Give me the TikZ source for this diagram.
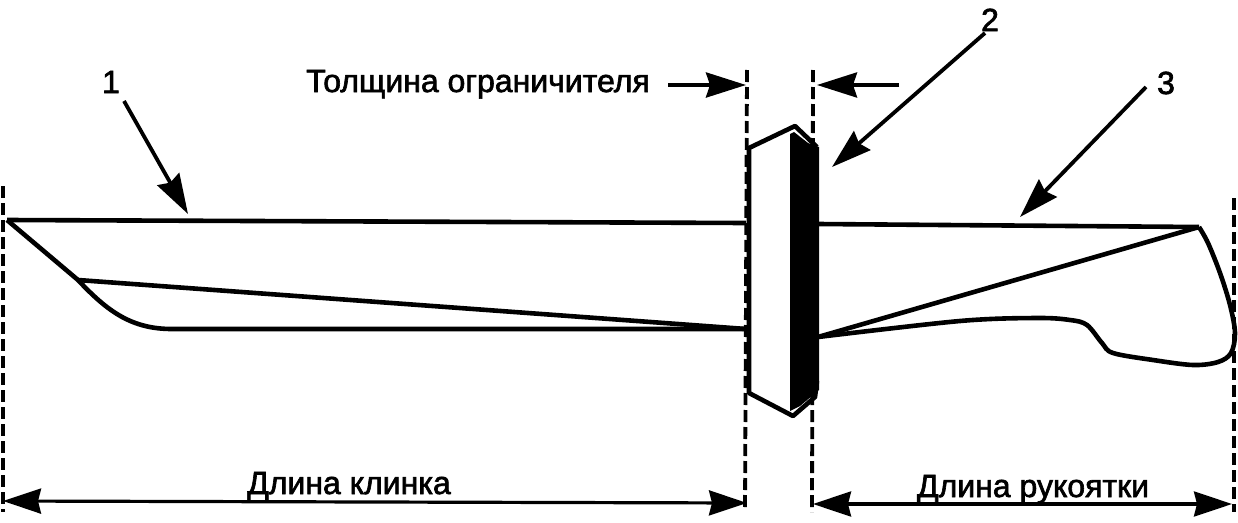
\documentclass[tikz,border=0pt]{standalone}
\usepackage{fontspec}
\setmainfont{Liberation Sans}
\newfontfamily\labfont[FakeBold=2]{Liberation Sans}
\usetikzlibrary{arrows.meta}
\tikzset{
  outline/.style={line width=4.6pt,line join=round},
  dimline/.style={line width=3.8pt,dash pattern=on 12pt off 5pt},
  leader/.style={line width=3.8pt,-{Stealth[length=40pt,width=25pt,inset=4pt]}},
  twoway/.style={line width=3.2pt,{Stealth[length=38pt,width=25pt,inset=3pt]}-{Stealth[length=38pt,width=25pt,inset=3pt]}},
  label/.style={font=\labfont\fontsize{32}{34}\selectfont,inner sep=0pt,text=black,anchor=base},
}
\begin{document}
\begin{tikzpicture}[x=1pt,y=-1pt]
\useasboundingbox (0,0) rectangle (1238,522);
% blade
\coordinate (tip) at (7,220);
\coordinate (bt) at (746,223);
\coordinate (be) at (746,329);
\coordinate (bev) at (78,280);
\draw[outline] (tip) -- (bt);
\draw[outline] (tip) -- (bev) .. controls (108,312) and (132,329) .. (172,329) -- (be);
\draw[outline] (bev) -- (be);
% guard
\coordinate (ga) at (749,148);
\coordinate (gb) at (795,126);
\coordinate (gc) at (817,147);
\coordinate (gd) at (817,381);
\coordinate (ge) at (793,416);
\coordinate (gf) at (749,393);
\coordinate (gg) at (815,397);
\fill[black] (790,134) -- (794,132) -- (808,143) -- (819,147) -- (819,390) -- (800,406) -- (790,411) -- cycle;
\draw[outline] (gc) -- (gb) -- (ga) -- (gf) -- (ge) -- (gg) -- (gd);
% handle
\coordinate (hs) at (818,224);
\coordinate (hc) at (1199,227);
\coordinate (hb) at (818,337);
\draw[outline] (hs) -- (hc);
\draw[outline] (hb) -- (hc);
\draw[outline] plot[smooth,tension=0.55] coordinates {(hc) (1208,243) (1220,273) (1230,305) (1235,333) (1231,353) (1218,362) (1193,365) (1153,360) (1113,353) (1102,343) (1087,325) (1070,320) (1037,318) (960,321) (hb)};
% dimension verticals
\coordinate (v1t) at (3,186); \coordinate (v1b) at (3,512);
\coordinate (v2t) at (747,70); \coordinate (v2b) at (745,510);
\coordinate (v3t) at (813,70); \coordinate (v3b) at (812,512);
\coordinate (v4t) at (1234,198); \coordinate (v4b) at (1234,512);
\draw[dimline] (v1t) -- (v1b);
\draw[dimline] (v2t) -- (v2b);
\draw[dimline] (v3t) -- (v3b);
\draw[dimline] (v4t) -- (v4b);
% labels
\node[label] (t1) at (478,92) {Толщина ограничителя};
\node[label] (n1) at (111,93) {1};
\node[label] (n2) at (990,31) {2};
\node[label] (n3) at (1166,94) {3};
\node[label] (l1) at (349,494) {Длина клинка};
\node[label] (l2) at (1033,497) {Длина рукоятки};
% thickness arrows
\coordinate (a1s) at (668,85); \coordinate (a1e) at (746,85);
\coordinate (a2s) at (899,85); \coordinate (a2e) at (817,85);
\draw[leader] (a1s) -- (a1e);
\draw[leader] (a2s) -- (a2e);
% pointers
\coordinate (p1s) at (124,101); \coordinate (p1e) at (188,214);
\coordinate (p2s) at (985,33); \coordinate (p2e) at (832,167);
\coordinate (p3s) at (1146,87); \coordinate (p3e) at (1020,217);
\draw[leader] (p1s) -- (p1e);
\draw[leader] (p2s) -- (p2e);
\draw[leader] (p3s) -- (p3e);
% bottom dimensions
\coordinate (d1s) at (3,501); \coordinate (d1e) at (747,503);
\coordinate (d2s) at (813,504); \coordinate (d2e) at (1232,504);
\draw[twoway] (d1s) -- (d1e);
\draw[twoway] (d2s) -- (d2e);
\end{tikzpicture}
\end{document}
